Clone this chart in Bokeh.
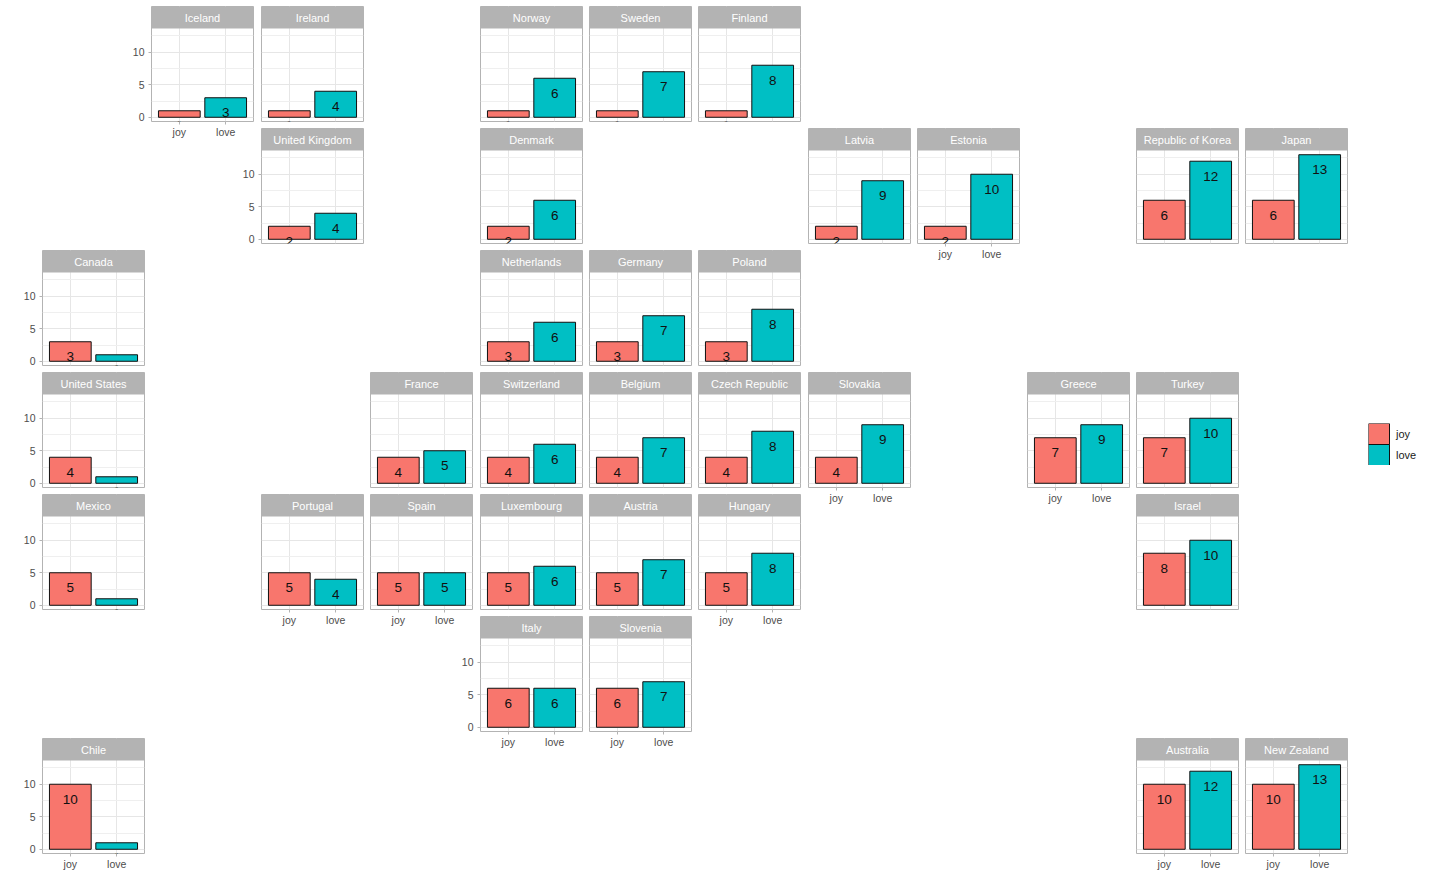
from bokeh.plotting import figure
from bokeh.models import GridBox, FixedTicker, BoxAnnotation, Label, ColumnDataSource, FactorRange
from bokeh.core.properties import value
from bokeh.embed import file_html
from bokeh.resources import INLINE

# ---------------- data ----------------
countries = ["Iceland", "Ireland", "Norway", "Sweden", "Finland",
             "United Kingdom", "Denmark", "Latvia", "Estonia", "Republic of Korea", "Japan",
             "Canada", "Netherlands", "Germany", "Poland",
             "United States", "France", "Switzerland", "Belgium", "Czech Republic", "Slovakia", "Greece", "Turkey",
             "Mexico", "Portugal", "Spain", "Luxembourg", "Austria", "Hungary", "Israel",
             "Italy", "Slovenia",
             "Chile", "Australia", "New Zealand"]
joy = [1, 1, 1, 1, 1,
       2, 2, 2, 2, 6, 6,
       3, 3, 3, 3,
       4, 4, 4, 4, 4, 4, 7, 7,
       5, 5, 5, 5, 5, 5, 8,
       6, 6,
       10, 10, 10]
love = [3, 4, 6, 7, 8,
        4, 6, 9, 10, 12, 13,
        1, 6, 7, 8,
        1, 5, 6, 7, 8, 9, 9, 10,
        1, 4, 5, 6, 7, 8, 10,
        6, 7,
        1, 12, 13]
emotions = ["joy", "love"]
y_ticks = [0, 5, 10]
y_minor = [2.5, 7.5, 12.5]

# geofacet grid (row, col)
grid_row = [0, 0, 0, 0, 0,
            1, 1, 1, 1, 1, 1,
            2, 2, 2, 2,
            3, 3, 3, 3, 3, 3, 3, 3,
            4, 4, 4, 4, 4, 4, 4,
            5, 5,
            6, 6, 6]
grid_col = [1, 2, 4, 5, 6,
            2, 4, 7, 8, 10, 11,
            0, 4, 5, 6,
            0, 3, 4, 5, 6, 7, 9, 10,
            0, 2, 3, 4, 5, 6, 10,
            4, 5,
            0, 10, 11]
show_x = {"Iceland", "Estonia", "Slovakia", "Greece", "Portugal", "Spain", "Hungary",
          "Italy", "Slovenia", "Chile", "Australia", "New Zealand"}
show_y = {"Iceland", "United Kingdom", "Canada", "United States", "Mexico", "Chile", "Italy"}

# ---------------- styles ----------------
FONT = "Liberation Sans"
COLORS = {"joy": "#F8766D", "love": "#00BFC4"}
GREY70 = "#B3B3B3"
X0, DX, Y0, DY = 42, 109.4, 6, 122
FW, FH, STRIP = 102, 115, 22

vmax = max(max(joy), max(love))
y_lo, y_hi = -0.05 * vmax, vmax * 1.05
px_per_unit = (FH - STRIP) / (y_hi - y_lo)
y_end = y_hi + STRIP / px_per_unit
x_pos = [i + 1 for i in range(len(emotions))]

specs = []
for name, r, c, j, l in zip(countries, grid_row, grid_col, joy, love):
    fl = round(X0 + DX * c)
    ft = round(Y0 + DY * r)
    hx, hy = name in show_x, name in show_y
    LB = 28 if hy else 1
    RB, TB = 1, 1
    BB = 22 if hx else 1
    p = figure(width=LB + FW + RB, height=TB + FH + BB,
               x_range=(0.4, len(emotions) + 0.6), y_range=(y_lo, y_end),
               output_backend="svg", toolbar_location=None, title=None,
               x_axis_location="below" if hx else None,
               y_axis_location="left" if hy else None,
               min_border_left=LB, min_border_right=RB, min_border_top=TB, min_border_bottom=BB)
    p.background_fill_color = "white"
    p.border_fill_alpha = 0
    p.outline_line_color = GREY70
    p.outline_line_width = 1

    p.xgrid.ticker = FixedTicker(ticks=x_pos, minor_ticks=[])
    p.ygrid.ticker = FixedTicker(ticks=y_ticks, minor_ticks=y_minor)
    p.xgrid.grid_line_color = "#E6E6E6"
    p.ygrid.grid_line_color = "#E6E6E6"
    p.ygrid.minor_grid_line_color = "#EFEFEF"

    for ax in (p.xaxis + p.yaxis):
        ax.axis_line_color = None
        ax.major_tick_line_color = GREY70
        ax.major_tick_in = 0
        ax.major_tick_out = 3
        ax.minor_tick_line_color = None
        ax.major_label_text_color = "#4D4D4D"
        ax.major_label_text_font = FONT
        ax.major_label_text_font_size = "10.5px"
    if hx:
        p.xaxis.ticker = FixedTicker(ticks=x_pos, minor_ticks=[])
        p.xaxis.major_label_overrides = {x: e for x, e in zip(x_pos, emotions)}
        p.xaxis.major_label_standoff = 1
    if hy:
        p.yaxis.ticker = FixedTicker(ticks=y_ticks, minor_ticks=[])
        p.yaxis.major_label_standoff = 4

    vals = [j, l]
    src = ColumnDataSource(dict(x=x_pos, v=vals, lab=[str(v) for v in vals],
                                col=[COLORS[e] for e in emotions]))
    p.vbar(x="x", top="v", bottom=0, width=0.9, source=src,
           fill_color="col", line_color="#111111", line_width=1)
    p.text(x="x", y="v", text="lab", source=src, y_offset=15,
           text_align="center", text_baseline="middle",
           text_font=value(FONT), text_font_size="13.5px", text_color="#111111")

    p.add_layout(BoxAnnotation(bottom=y_hi, fill_color=GREY70, fill_alpha=1,
                               line_color=None))
    p.add_layout(Label(x=(len(emotions) + 1) / 2, y=y_hi + STRIP / px_per_unit / 2,
                       text=name, text_align="center", text_baseline="middle",
                       text_color="white", text_font=FONT, text_font_size="11px"))
    specs.append((p, fl - LB, ft - TB, fl + FW + RB, ft + FH + BB))

# legend (keys drawn as squares on a categorical axis)
LW, LH, KEY = 62, 42, 21
lg = figure(width=LW, height=LH, x_range=(0, LW),
            y_range=FactorRange(factors=list(reversed(emotions))),
            output_backend="svg", toolbar_location=None, title=None,
            x_axis_location=None, y_axis_location=None, min_border=0)
lg.outline_line_color = None
lg.grid.visible = False
lg.border_fill_alpha = 0
lg.background_fill_alpha = 0
lsrc = ColumnDataSource(dict(e=emotions, col=[COLORS[e] for e in emotions]))
lg.rect(x=KEY / 2, y="e", width=KEY, height=KEY, width_units="screen", height_units="screen",
        source=lsrc, fill_color="col", line_color="#111111", line_width=1)
lg.text(x=KEY / 2, y="e", text="e", source=lsrc, x_offset=17,
        text_align="left", text_baseline="middle",
        text_font=value(FONT), text_font_size="11px", text_color="#1A1A1A")
specs.append((lg, 1368, 423, 1368 + LW, 423 + LH))

xs = sorted({0} | {s[1] for s in specs} | {s[3] for s in specs})
ys = sorted({0} | {s[2] for s in specs} | {s[4] for s in specs})
children = []
for f, x0, y0, x1, y1 in specs:
    ci, ri = xs.index(x0), ys.index(y0)
    children.append((f, ri, ci, ys.index(y1) - ri, xs.index(x1) - ci))
cols = [f"{b - a}px" for a, b in zip(xs[:-1], xs[1:])]
rows = [f"{b - a}px" for a, b in zip(ys[:-1], ys[1:])]
layout = GridBox(children=children, rows=rows, cols=cols, spacing=0)

open("out.html", "w").write(file_html(layout, INLINE))
